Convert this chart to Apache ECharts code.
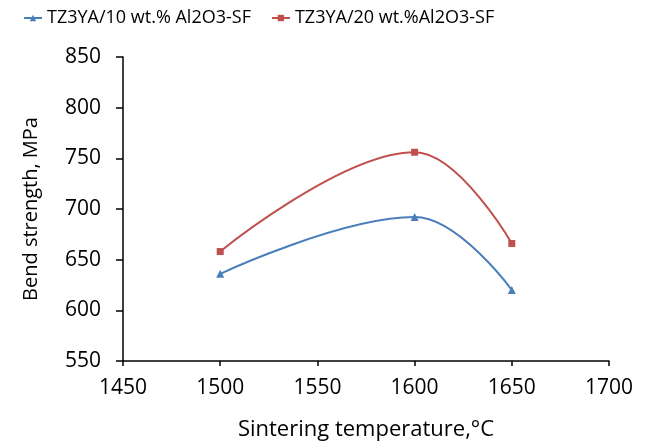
<!DOCTYPE html>
<html><head><meta charset="utf-8">
<script src="https://cdn.jsdelivr.net/npm/echarts@6/dist/echarts.min.js"></script>
<style>html,body{margin:0;padding:0;background:#fff}#c{width:648px;height:446px}</style>
</head><body><div id="c"></div>
<script>
const temperatures = [1500, 1600, 1650];
const series10 = [636, 692, 620];
const series20 = [658, 756, 666];
const seriesNames = ['TZ3YA/10 wt.% Al2O3-SF', 'TZ3YA/20 wt.%Al2O3-SF'];
const xTicks = [1450, 1500, 1550, 1600, 1650, 1700];
const yTicks = [550, 600, 650, 700, 750, 800, 850];

const font = 'Open Sans';
const chart = echarts.init(document.getElementById('c'), null, {renderer: 'canvas'});
const pair = (xs, ys) => xs.map((x, i) => [x, ys[i]]);
chart.setOption({
  animation: false,
  backgroundColor: '#fff',
  textStyle: {fontFamily: font},
  legend: {
    top: 4, left: 18,
    itemGap: 20, itemWidth: 18, itemHeight: 8,
    textStyle: {fontSize: 18, color: '#000', fontFamily: font},
    data: seriesNames
  },
  grid: {left: 123, top: 57, right: 39, bottom: 84},
  xAxis: {
    type: 'value', min: xTicks[0], max: xTicks[xTicks.length - 1], interval: 50,
    name: 'Sintering temperature,°C', nameLocation: 'middle', nameGap: 58,
    nameTextStyle: {fontSize: 22, color: '#000', fontFamily: font},
    axisLine: {lineStyle: {color: '#000', width: 1.5}},
    axisTick: {show: true, length: 5, lineStyle: {color: '#000', width: 1.5}},
    axisLabel: {fontSize: 21, color: '#000', margin: 17, fontFamily: font,
                formatter: v => String(v)},
    splitLine: {show: false}
  },
  yAxis: {
    type: 'value', min: yTicks[0], max: yTicks[yTicks.length - 1], interval: 50,
    name: 'Bend strength, MPa', nameLocation: 'middle', nameGap: 82, nameRotate: 90,
    nameTextStyle: {fontSize: 20, color: '#000', fontFamily: font},
    axisLine: {show: true, lineStyle: {color: '#000', width: 1.5}},
    axisTick: {show: true, length: 7, lineStyle: {color: '#000', width: 1.5}},
    axisLabel: {fontSize: 21, color: '#000', margin: 22, fontFamily: font,
                formatter: v => String(v)},
    splitLine: {show: false}
  },
  series: [
    {
      name: seriesNames[0], type: 'line', smooth: 0.4,
      data: pair(temperatures, series10),
      symbol: 'triangle', symbolSize: 8,
      itemStyle: {color: '#4A7EBB'},
      lineStyle: {color: '#4A7EBB', width: 2}
    },
    {
      name: seriesNames[1], type: 'line', smooth: 0.4,
      data: pair(temperatures, series20),
      symbol: 'rect', symbolSize: 7,
      itemStyle: {color: '#C0504D'},
      lineStyle: {color: '#C0504D', width: 2}
    }
  ]
});
</script></body></html>
